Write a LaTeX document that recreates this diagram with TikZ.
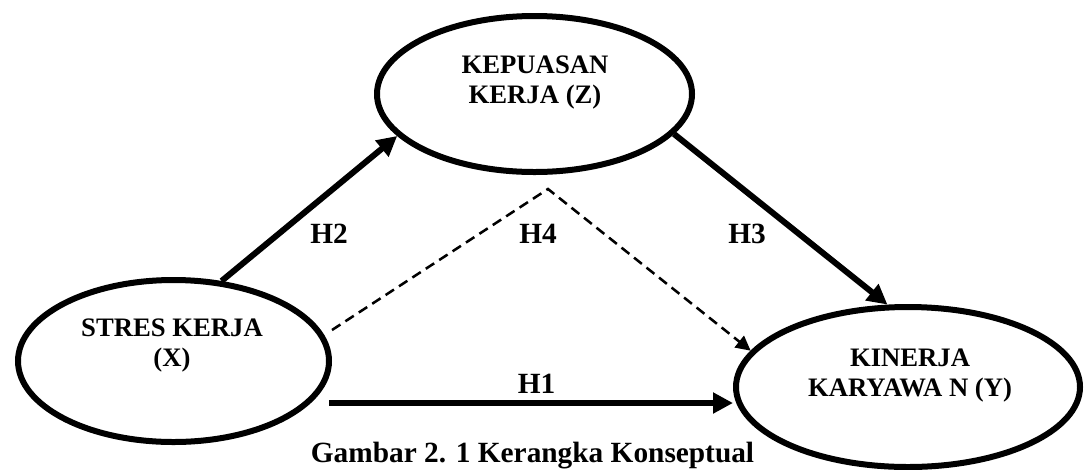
\documentclass[tikz,border=0pt]{standalone}
\usepackage{fontspec}
\setmainfont{Liberation Serif}
\usetikzlibrary{arrows.meta,shapes.geometric}
\begin{document}
\begin{tikzpicture}[x=0.75pt,y=-0.75pt,
  oval/.style={draw=black,line width=4.5pt,ellipse,inner sep=0pt},
  ovaltext/.style={align=center,font=\fontsize{20}{22.5}\selectfont\bfseries,inner sep=0pt},
  hlabel/.style={font=\fontsize{22}{26}\selectfont\bfseries,inner sep=0pt,anchor=base},
  thickarrow/.style={line width=4.5pt,-{Triangle[length=15pt,width=15pt]}},
  dasharrow/.style={line width=1.9pt,dash pattern=on 7.5pt off 4.5pt,-{Triangle[length=11pt,width=11pt]}}]
\useasboundingbox (0,0) rectangle (1084,469);
% ellipses
\node[oval,minimum width=236.25pt,minimum height=117pt] (z) at (534.5,94) {};
\node[oval,minimum width=233.25pt,minimum height=121.5pt] (x) at (173.5,361) {};
\node[oval,minimum width=258pt,minimum height=120pt] (y) at (908,387) {};
% texts
\node[ovaltext] (zt) at (535,83) {KEPUASAN\\KERJA (Z)};
\node[ovaltext] (xt) at (172,345) {STRES KERJA\\(X)};
\node[ovaltext] (yt) at (910,376) {KINERJA\\KARYAWA N (Y)};
% connectors
\draw[thickarrow] (x.59) -- (z.197.7);
\draw[thickarrow] (z.-16.5) -- (y.104);
\coordinate (h1s) at (329,403);
\draw[thickarrow] (h1s) -- (h1s -| y.west);
\coordinate (h4s) at (332,330);
\coordinate (h4a) at (548,189);
\draw[dasharrow] (h4s) -- (h4a) -- (y.167);
% labels
\node[hlabel] (h1) at (536.5,393) {H1};
\node[hlabel] (h2) at (329,243) {H2};
\node[hlabel] (h3) at (747,243) {H3};
\node[hlabel] (h4) at (538,243) {H4};
\node[hlabel] (cap) at (532.5,462) {Gambar 2. 1 Kerangka Konseptual};
\end{tikzpicture}
\end{document}
